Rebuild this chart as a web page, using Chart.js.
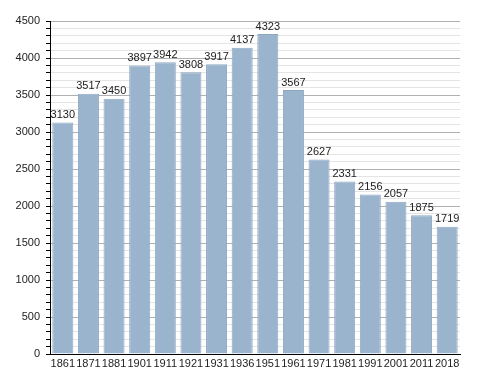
<!DOCTYPE html>
<html>
<head>
<meta charset="utf-8">
<script src="https://cdn.jsdelivr.net/npm/chart.js@4"></script>
<style>
  html, body { margin: 0; padding: 0; background: #fff; }
  #wrap { width: 488px; height: 373px; }
</style>
</head>
<body>
<div id="wrap"><canvas id="chart" width="488" height="373"></canvas></div>
<script>
const years = ['1861', '1871', '1881', '1901', '1911', '1921', '1931', '1936', '1951', '1961', '1971', '1981', '1991', '2001', '2011', '2018'];
const population = [3130, 3517, 3450, 3897, 3942, 3808, 3917, 4137, 4323, 3567, 2627, 2331, 2156, 2057, 1875, 1719];
const yMax = 4500;
const yStep = 500;

const barLabels = {
    id: 'barLabels',
    afterDatasetsDraw(chart) {
        const ctx = chart.ctx;
        const meta = chart.getDatasetMeta(0);
        ctx.save();
        ctx.font = '11px "Liberation Sans", Arial, sans-serif';
        ctx.fillStyle = '#222';
        ctx.textAlign = 'center';
        ctx.textBaseline = 'bottom';
        meta.data.forEach((bar, i) => {
            ctx.fillText(population[i], bar.x, bar.y - 2);
        });
        ctx.restore();
    }
};

new Chart(document.getElementById('chart'), {
    type: 'bar',
    data: {
        labels: years,
        datasets: [{
            data: population,
            backgroundColor: '#9bb4cd',
            borderColor: '#8ea8c2',
            borderWidth: 1,
            categoryPercentage: 1,
            barPercentage: 0.82
        }]
    },
    options: {
        responsive: false,
        animation: false,
        layout: { padding: { top: 21, right: 28, left: 0, bottom: 0 } },
        plugins: { legend: { display: false }, tooltip: { enabled: false } },
        scales: {
            x: {
                grid: { display: false, drawTicks: false },
                border: { color: '#000', width: 1 },
                ticks: {
                    color: '#222',
                    padding: 3,
                    maxRotation: 0,
                    autoSkip: false,
                    font: { family: '"Liberation Sans", Arial, sans-serif', size: 11 }
                },
                afterFit(scale) { scale.height = 19; }
            },
            y: {
                min: 0,
                max: yMax,
                grid: {
                    color: ctx => (ctx.tick && ctx.tick.value % yStep === 0) ? '#b0b0b0' : '#e4e4e4',
                    tickColor: '#000',
                    tickLength: 4,
                    tickWidth: 1
                },
                border: { color: '#000', width: 1 },
                ticks: {
                    stepSize: 100,
                    autoSkip: false,
                    color: '#222',
                    padding: 6,
                    font: { family: '"Liberation Sans", Arial, sans-serif', size: 11 },
                    callback: v => (v % yStep === 0 ? v : '')
                },
                afterFit(scale) { scale.width = 50; }
            }
        }
    },
    plugins: [barLabels]
});
</script>
</body>
</html>
